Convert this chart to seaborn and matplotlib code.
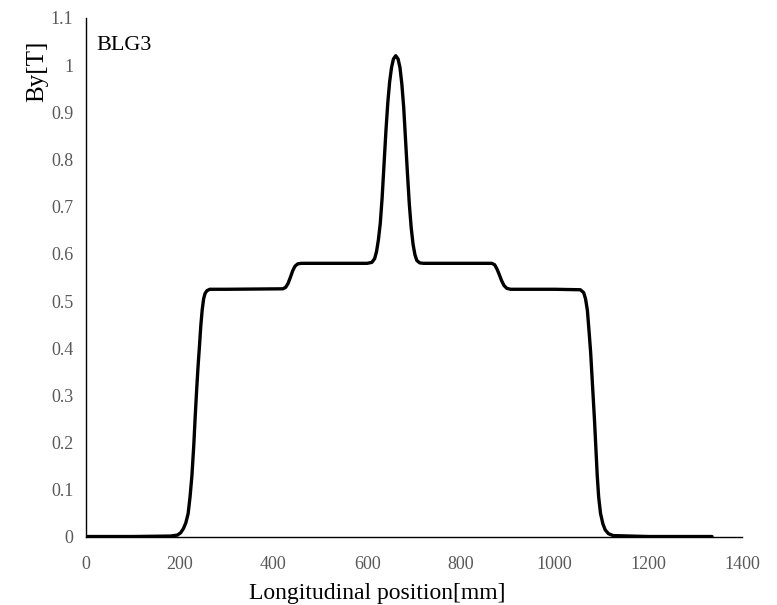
import matplotlib
matplotlib.use("Agg")
import matplotlib.pyplot as plt
import seaborn as sns
import pandas as pd

# Longitudinal position [mm] and By [T]
x_mm = [0, 100, 180, 195, 202, 208, 213, 218, 222, 226, 230, 233, 236, 239, 242,
        245, 248, 251, 254, 258, 264, 300, 420, 426, 431, 436, 441, 446, 452, 460,
        600, 610, 616, 620, 624, 628, 632, 636, 640, 644, 648, 652, 656, 661, 666,
        670, 674, 678, 682, 686, 690, 694, 698, 702, 706, 712, 720, 866, 872, 877,
        882, 887, 892, 898, 906, 1000, 1055, 1062, 1066, 1070, 1074, 1077, 1081,
        1085, 1088, 1091, 1094, 1098, 1103, 1108, 1115, 1125, 1200, 1336]
by_t = [0.001, 0.001, 0.002, 0.004, 0.009, 0.018, 0.03, 0.05, 0.085, 0.13, 0.195,
        0.255, 0.31, 0.36, 0.403, 0.448, 0.482, 0.505, 0.516, 0.522, 0.525, 0.525,
        0.526, 0.529, 0.537, 0.55, 0.564, 0.574, 0.579, 0.58,
        0.58, 0.582, 0.59, 0.605, 0.63, 0.665, 0.72, 0.79, 0.86, 0.92, 0.965,
        0.995, 1.013, 1.02, 1.013, 0.995, 0.96, 0.91, 0.84, 0.77, 0.705, 0.655,
        0.62, 0.598, 0.586, 0.581, 0.58, 0.58, 0.577, 0.568,
        0.556, 0.543, 0.533, 0.527, 0.525, 0.525, 0.524, 0.518, 0.505, 0.48, 0.43,
        0.39, 0.32, 0.25, 0.19, 0.13, 0.085, 0.05, 0.028, 0.015, 0.007, 0.003,
        0.001, 0.001]

x_ticks = [0, 200, 400, 600, 800, 1000, 1200, 1400]
y_ticks = [0, 0.1, 0.2, 0.3, 0.4, 0.5, 0.6, 0.7, 0.8, 0.9, 1.0, 1.1]
y_tick_labels = ["0", "0.1", "0.2", "0.3", "0.4", "0.5", "0.6", "0.7", "0.8",
                 "0.9", "1", "1.1"]

sns.set_style("white")
plt.rcParams["font.family"] = ["Liberation Serif", "DejaVu Serif"]

df = pd.DataFrame({"x": x_mm, "y": by_t})

fig = plt.figure(figsize=(7.77, 6.05), dpi=100)
ax = fig.add_axes([0.1107, 0.1124, 0.8443, 0.8579])

sns.lineplot(data=df, x="x", y="y", ax=ax, color="black", linewidth=2.4,
             sort=False, estimator=None)

ax.set_xlim(0, 1400)
ax.set_ylim(0, 1.1)
ax.set_xticks(x_ticks)
ax.set_xticklabels([str(t) for t in x_ticks])
ax.set_yticks(y_ticks)
ax.set_yticklabels(y_tick_labels)

ax.tick_params(axis="both", length=0, labelsize=13, colors="#595959")
ax.tick_params(axis="x", pad=14)
ax.tick_params(axis="y", pad=9)

for side in ["top", "right"]:
    ax.spines[side].set_visible(False)
for side in ["left", "bottom"]:
    ax.spines[side].set_color("black")
    ax.spines[side].set_linewidth(1.0)

ax.set_xlabel("Longitudinal position[mm]", fontsize=17, color="black")
ax.xaxis.set_label_coords(0.4436, -0.108)
ax.xaxis.label.set_va("center")
ax.set_ylabel("By[T]", fontsize=18, color="black")
ax.yaxis.set_label_coords(-0.0747, 0.898)
ax.yaxis.label.set_va("center")

ax.text(0.016, 0.965, "BLG3", transform=ax.transAxes, fontsize=16,
        color="black", va="top", ha="left")

fig.savefig("out.png", dpi=100)
